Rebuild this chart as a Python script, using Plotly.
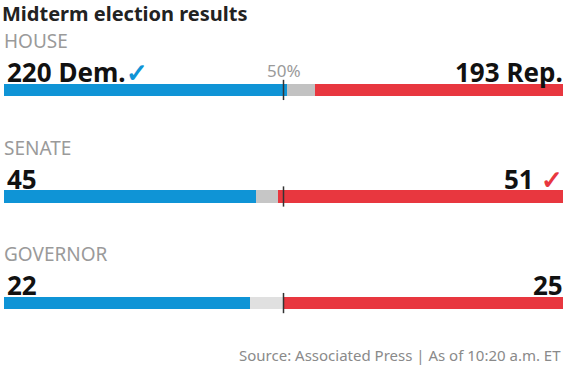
import plotly.graph_objects as go

# ---- data ----
races = ["HOUSE", "SENATE", "GOVERNOR"]
dem = [220, 45, 22]
undecided = [22, 4, 3]
rep = [193, 51, 25]
dem_labels = ["220 Dem.", "45", "22"]
rep_labels = ["193 Rep.", "51", "25"]
dem_won = [True, False, False]
rep_won = [False, True, False]
title = "Midterm election results"
source = "Source: Associated Press | As of 10:20 a.m. ET"

BLUE = "#0f94d6"
RED = "#e8373f"
GRAYS = ["#c2c2c2", "#c6c6c6", "#e0e0e0"]
FONT = "Noto Sans"

totals = [d + u + r for d, u, r in zip(dem, undecided, rep)]
ypos = list(range(len(races)))
bw = 0.115

fig = go.Figure()
fig.add_trace(go.Bar(y=ypos, x=[d / t for d, t in zip(dem, totals)], orientation="h",
                     marker=dict(color=BLUE, line=dict(width=0)), width=bw, hoverinfo="skip"))
fig.add_trace(go.Bar(y=ypos, x=[u / t for u, t in zip(undecided, totals)], orientation="h",
                     marker=dict(color=GRAYS, line=dict(width=0)), width=bw, hoverinfo="skip"))
fig.add_trace(go.Bar(y=ypos, x=[r / t for r, t in zip(rep, totals)], orientation="h",
                     marker=dict(color=RED, line=dict(width=0)), width=bw, hoverinfo="skip"))

ann = []
for i, name in enumerate(races):
    ann.append(dict(x=0, y=i, xref="x", yref="y", text=name, showarrow=False,
                    xanchor="left", yanchor="middle", yshift=49, xshift=-2,
                    font=dict(family=FONT, size=19, color="#9a9a9a")))
    dtxt = dem_labels[i]
    if dem_won[i]:
        dtxt += "<span style='color:%s'>✓</span>" % BLUE
    ann.append(dict(x=0, y=i, xref="x", yref="y", text=dtxt, showarrow=False,
                    xanchor="left", yanchor="middle", yshift=18, xshift=1,
                    font=dict(family=FONT, size=26, color="#111", weight="bold")))
    rtxt = rep_labels[i]
    if rep_won[i]:
        rtxt += " <span style='color:%s'>✓</span>" % RED
    ann.append(dict(x=1, y=i, xref="x", yref="y", text=rtxt, showarrow=False,
                    xanchor="right", yanchor="middle", yshift=18, xshift=2,
                    font=dict(family=FONT, size=26, color="#111", weight="bold")))

ann.append(dict(x=0.5, y=0, xref="x", yref="y", text="50%", showarrow=False,
                xanchor="center", yanchor="middle", yshift=19,
                font=dict(family=FONT, size=17, color="#9a9a9a")))
ann.append(dict(x=0, y=0, xref="x", yref="y", text=title, showarrow=False,
                xanchor="left", yanchor="middle", yshift=76, xshift=-4,
                font=dict(family=FONT, size=20, color="#222", weight="bold")))
ann.append(dict(x=1, y=2, xref="x", yref="y", text=source, showarrow=False,
                xanchor="right", yanchor="middle", yshift=-52,
                font=dict(family=FONT, size=15, color="#8a8a8a")))

shapes = []
for i in ypos:
    shapes.append(dict(type="line", xref="x", yref="y", x0=0.5, x1=0.5,
                       y0=i - 0.095, y1=i + 0.095, line=dict(color="#333", width=1.5)))

fig.update_layout(
    width=567, height=378,
    margin=dict(l=4, r=4, t=26, b=11),
    paper_bgcolor="white", plot_bgcolor="white",
    barmode="stack", bargap=0, showlegend=False,
    xaxis=dict(range=[0, 1], visible=False, fixedrange=True),
    yaxis=dict(range=[2.6, -0.6], visible=False, fixedrange=True),
    annotations=ann, shapes=shapes,
)
fig.write_html("out.html", config={"displayModeBar": False},
               post_script="document.body.style.margin='0';")
